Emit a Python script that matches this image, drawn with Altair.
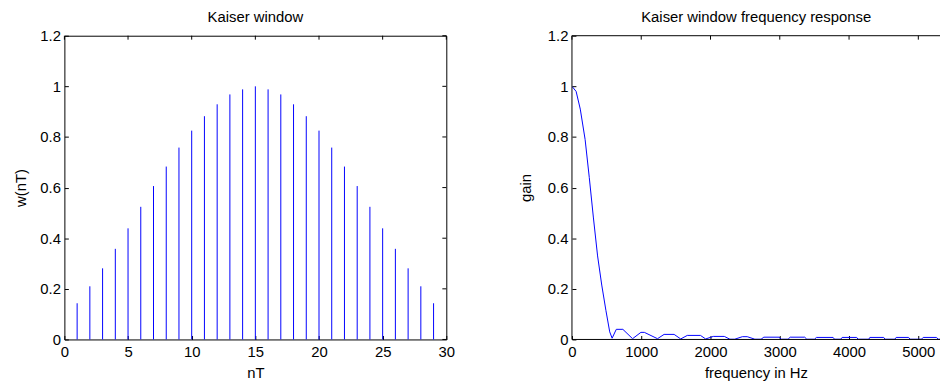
import altair as alt
import pandas as pd

# ---- data ----
n_values = list(range(1, 30))
w_values = [0.143, 0.21, 0.281, 0.358, 0.439, 0.524, 0.606, 0.683, 0.758, 0.825,
            0.882, 0.929, 0.968, 0.988, 1.0, 0.988, 0.968, 0.929, 0.882, 0.825,
            0.758, 0.683, 0.606, 0.524, 0.439, 0.358, 0.281, 0.21, 0.143]

freq_hz = [0, 60, 120, 190, 250, 310, 370, 430, 490, 545, 580,
           640, 735, 875, 995, 1045, 1235, 1330, 1475, 1570, 1665, 1855, 1930,
           2040, 2200, 2280, 2350, 2460, 2530, 2640, 2730, 2770, 2990, 3020, 3120,
           3150, 3360, 3390, 3500, 3530, 3770, 3790, 3880, 3900, 4110, 4130, 4285,
           4300, 4500, 4520, 4660, 4680, 4860, 4880, 5045, 5070, 5260, 5290, 5512]
gain = [1.0, 0.98, 0.91, 0.79, 0.64, 0.48, 0.33, 0.215, 0.115, 0.03, 0.005,
        0.04, 0.04, 0.003, 0.028, 0.028, 0.003, 0.02, 0.02, 0.002, 0.016, 0.016, 0.002,
        0.012, 0.012, 0.001, 0.001, 0.011, 0.011, 0.001, 0.001, 0.009, 0.009, 0.001, 0.001,
        0.009, 0.009, 0.001, 0.001, 0.008, 0.008, 0.001, 0.001, 0.008, 0.008, 0.001, 0.001,
        0.008, 0.008, 0.001, 0.001, 0.008, 0.008, 0.001, 0.001, 0.008, 0.008, 0.001, 0.001]

left_x_ticks = [0, 5, 10, 15, 20, 25, 30]
right_x_ticks = [0, 1000, 2000, 3000, 4000, 5000]
y_ticks = [0, 0.2, 0.4, 0.6, 0.8, 1.0, 1.2]

W, H = 386, 307          # left panel plot area
W2 = 372                 # right panel: only the part that fits in the window
F_MAX = 5313             # frequency at that edge (70 px per 1000 Hz, as in the reference)
FONT = "Liberation Sans"
BLUE = "#0000ff"

one_row = pd.DataFrame({"k": [0]})

# ---------------- left: stem plot ----------------
stem_df = pd.DataFrame({"n": n_values, "w": w_values})
stems = alt.Chart(stem_df).mark_rule(color=BLUE, strokeWidth=1).encode(
    x=alt.X("n:Q", scale=alt.Scale(domain=[0, 30], nice=False, zero=False),
            axis=alt.Axis(values=left_x_ticks, title="nT", format="~g",
                          labelPadding=5, titlePadding=6)),
    y=alt.Y("w:Q", scale=alt.Scale(domain=[0, 1.2], nice=False),
            axis=alt.Axis(values=y_ticks, title="w(nT)", format="~g", titlePadding=11)),
    y2=alt.datum(0),
)
top1 = alt.Chart(pd.DataFrame({"n": left_x_ticks})).mark_rule(color="black", strokeWidth=1).encode(
    x=alt.X("n:Q"), y=alt.value(0), y2=alt.value(4))
right1 = alt.Chart(pd.DataFrame({"w": y_ticks})).mark_rule(color="black", strokeWidth=1).encode(
    y=alt.Y("w:Q"), x=alt.value(W - 4), x2=alt.value(W))
left = alt.layer(stems, top1, right1).properties(
    width=W, height=H, title=alt.TitleParams("Kaiser window", frame="group"))

# ---------------- right: frequency response ----------------
resp_df = pd.DataFrame({"f": freq_hz, "g": gain})
line = alt.Chart(resp_df).mark_line(color=BLUE, strokeWidth=1, clip=True).encode(
    x=alt.X("f:Q", scale=alt.Scale(domain=[0, F_MAX], nice=False),
            axis=alt.Axis(values=right_x_ticks, title="frequency in Hz", format="d",
                          labelPadding=5, titlePadding=6)),
    y=alt.Y("g:Q", scale=alt.Scale(domain=[0, 1.2], nice=False),
            axis=alt.Axis(values=y_ticks, title="gain", format="~g", titlePadding=14)),
)
top2 = alt.Chart(pd.DataFrame({"f": right_x_ticks})).mark_rule(color="black", strokeWidth=1).encode(
    x=alt.X("f:Q"), y=alt.value(0), y2=alt.value(4))
border_top = alt.Chart(one_row).mark_rule(color="black", strokeWidth=1).encode(
    x=alt.value(0), x2=alt.value(W2), y=alt.value(0))
border_bottom = alt.Chart(one_row).mark_rule(color="black", strokeWidth=1).encode(
    x=alt.value(0), x2=alt.value(W2), y=alt.value(H))
border_left = alt.Chart(one_row).mark_rule(color="black", strokeWidth=1).encode(
    x=alt.value(0), y=alt.value(0), y2=alt.value(H))
right = alt.layer(line, top2, border_top, border_bottom, border_left).properties(
    width=W2, height=H,
    view=alt.ViewBackground(stroke="transparent"),
    title=alt.TitleParams("Kaiser window frequency response", frame="group",
                          anchor="start", dx=70))

chart = alt.hconcat(left, right, spacing=63).properties(
    padding={"left": 5, "top": 0, "right": 0, "bottom": 0}
).configure_axis(
    domain=False, grid=False, offset=-4, tickSize=4, tickColor="black", tickWidth=1,
    labelFont=FONT, labelFontSize=15, labelColor="black", labelPadding=4,
    labelFlush=False, labelOverlap=False,
    titleFont=FONT, titleFontSize=15, titleFontWeight="normal", titleColor="black",
).configure_view(stroke="black", strokeWidth=1).configure_title(
    font=FONT, fontSize=15, fontWeight="normal", color="black", offset=3.5
)

chart.save("out.html", embed_options={"renderer": "svg", "actions": False})
